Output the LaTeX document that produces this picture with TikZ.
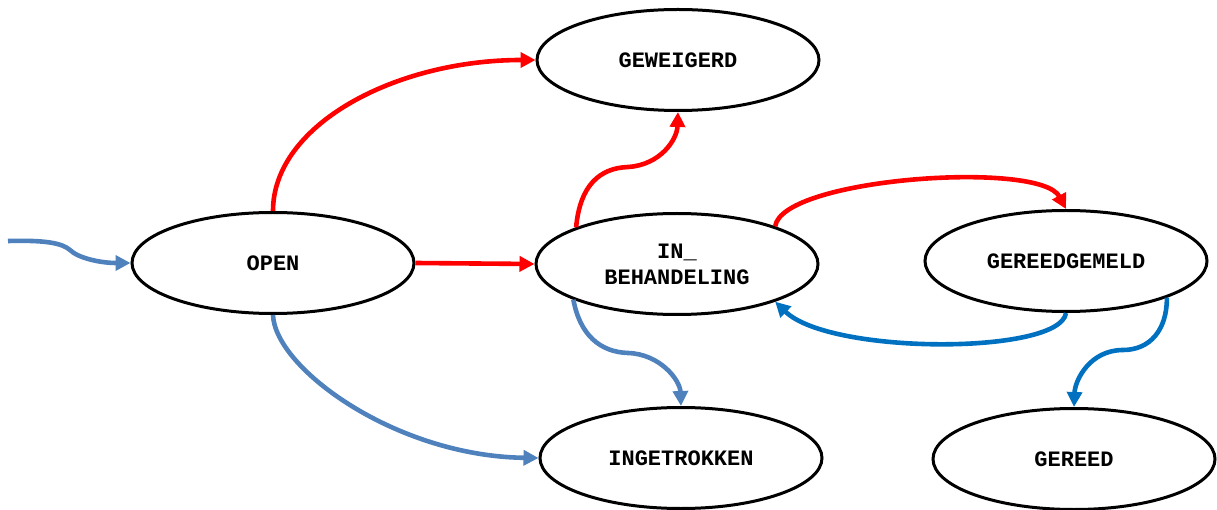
\documentclass[tikz,border=0pt]{standalone}
\usepackage{fontspec}
\setmonofont{Liberation Mono}
\usetikzlibrary{shapes.geometric,arrows.meta}
\definecolor{redc}{HTML}{FF0000}
\definecolor{steelc}{HTML}{4F81BD}
\definecolor{bluec}{HTML}{0070C0}
\tikzset{
  state/.style={ellipse, draw=black, line width=3pt, fill=white,
    minimum width=282pt, minimum height=101pt, inner sep=0pt,
    font=\ttfamily\bfseries\fontsize{22}{26}\selectfont, align=center},
  conn/.style={line width=4.6pt, -{Triangle[length=15pt,width=15pt]}},
  redarr/.style={conn, draw=redc},
  steelarr/.style={conn, draw=steelc},
  bluearr/.style={conn, draw=bluec}
}
\begin{document}
\begin{tikzpicture}[x=1pt,y=-1pt]
\useasboundingbox (0,0) rectangle (1217,510);
\node[state] (gew) at (678,60) {GEWEIGERD};
\node[state] (open) at (273,263) {OPEN};
\node[state] (inb) at (677,264) {IN\_\\BEHANDELING};
\node[state] (gg) at (1066,261) {GEREEDGEMELD};
\node[state] (ing) at (681,458) {INGETROKKEN};
\node[state] (gereed) at (1074,459) {GEREED};
\coordinate (entry) at (8,241);

\draw[steelarr] (entry) .. controls (45,240) and (62,243) .. (70,250)
  .. controls (78,258) and (100,263) .. (open.west);
\draw[redarr] (open.north) .. controls (273,125) and (395,60) .. (gew.west);
\draw[redarr] (open.east) -- (inb.west);
\draw[steelarr] (open.south) .. controls (275,368) and (395,456) .. (ing.west);
\draw[redarr] (inb.160) .. controls (580,185) and (600,168) .. (628,167)
  .. controls (660,165) and (677,140) .. (gew.south);
\draw[steelarr] (inb.199) .. controls (580,335) and (600,352) .. (628,353)
  .. controls (660,354) and (680,380) .. (ing.north);
\draw[redarr] (inb.21) .. controls (782,178) and (1040,160) .. (gg.north);
\draw[bluearr] (gg.south) .. controls (1060,355) and (830,355) .. (inb.339);
\draw[bluearr] (gg.340) .. controls (1167,330) and (1150,350) .. (1123,350)
  .. controls (1090,350) and (1075,380) .. (gereed.north);
\end{tikzpicture}
\end{document}
